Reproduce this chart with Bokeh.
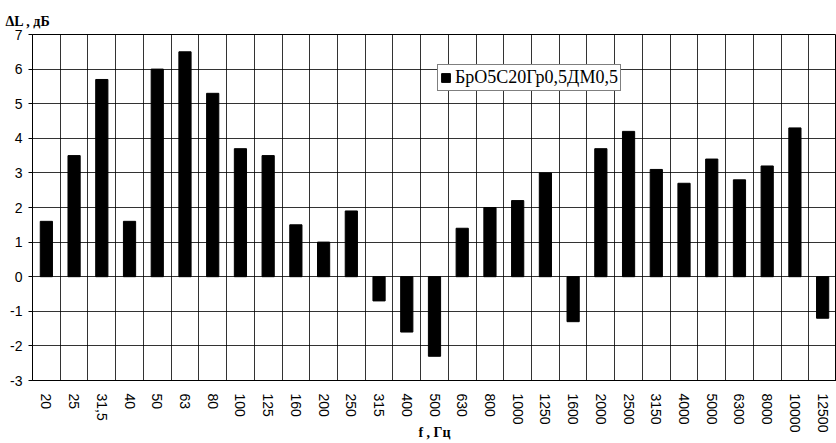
from bokeh.plotting import figure
from bokeh.models import (Range1d, FixedTicker, Legend, LegendItem, ColumnDataSource)
from bokeh.embed import file_html
from bokeh.resources import INLINE

categories = ["20", "25", "31,5", "40", "50", "63", "80", "100", "125", "160", "200", "250",
              "315", "400", "500", "630", "800", "1000", "1250", "1600", "2000", "2500",
              "3150", "4000", "5000", "6300", "8000", "10000", "12500"]
values = [1.6, 3.5, 5.7, 1.6, 6.0, 6.5, 5.3, 3.7, 3.5, 1.5, 1.0, 1.9,
          -0.7, -1.6, -2.3, 1.4, 2.0, 2.2, 3.0, -1.3, 3.7, 4.2,
          3.1, 2.7, 3.4, 2.8, 3.2, 4.3, -1.2]
y_ticks = [-3, -2, -1, 0, 1, 2, 3, 4, 5, 6, 7]
series_name = "БрО5С20Гр0,5ДМ0,5"
y_title = "ΔL , дБ"
x_title = "f , Гц"

n = len(categories)
xs = list(range(n))
src = ColumnDataSource(dict(x=xs, top=values))

p = figure(width=836, height=443, output_backend="svg", toolbar_location=None,
           x_range=Range1d(-0.5, n - 0.5), y_range=Range1d(-3, 7),
           min_border_left=32, min_border_right=0, min_border_top=34, min_border_bottom=62)
p.background_fill_color = "white"
p.border_fill_color = "white"
p.outline_line_color = "black"
p.outline_line_width = 1

r = p.vbar(x="x", top="top", bottom=0, width=0.44, fill_color="black", line_color="black", source=src)

# title used as the y-axis caption at top-left
p.title.text = y_title
p.title.text_font = "Liberation Serif"
p.title.text_font_size = "14px"
p.title.text_font_style = "bold"
p.title.text_color = "black"
p.title.align = "left"
p.title.offset = -27
p.title.standoff = 12

# axes
p.xaxis.ticker = FixedTicker(ticks=xs)
p.xaxis.major_label_overrides = {i: c for i, c in enumerate(categories)}
p.xaxis.major_label_orientation = "vertical"
p.xaxis.major_tick_line_color = None
p.xaxis.minor_tick_line_color = None
p.xaxis.axis_line_color = "black"
p.xaxis.major_label_text_font = "Liberation Sans"
p.xaxis.major_label_text_font_size = "14px"
p.xaxis.major_label_text_color = "black"
p.xaxis.major_label_standoff = 7
p.xaxis.axis_label = x_title
p.xaxis.axis_label_text_font = "Liberation Serif"
p.xaxis.axis_label_text_font_size = "14px"
p.xaxis.axis_label_text_font_style = "bold"
p.xaxis.axis_label_text_color = "black"
p.xaxis.axis_label_standoff = -10

p.yaxis.ticker = FixedTicker(ticks=y_ticks)
p.yaxis.major_label_overrides = {t: str(t) for t in y_ticks}
p.yaxis.minor_tick_line_color = None
p.yaxis.major_tick_out = 4
p.yaxis.major_tick_in = 0
p.yaxis.major_tick_line_color = "black"
p.yaxis.axis_line_color = "black"
p.yaxis.major_label_text_font = "Liberation Sans"
p.yaxis.major_label_text_font_size = "14px"
p.yaxis.major_label_text_color = "black"
p.yaxis.major_label_standoff = 6

# grids
p.xgrid.ticker = FixedTicker(ticks=[i - 0.5 for i in range(n + 1)])
p.xgrid.grid_line_color = "black"
p.xgrid.grid_line_alpha = 0.8
p.ygrid.ticker = FixedTicker(ticks=y_ticks)
p.ygrid.grid_line_color = "black"
p.ygrid.grid_line_alpha = 0.8

legend = Legend(items=[LegendItem(label=series_name, renderers=[r])],
                location=(405, 289))
legend.label_text_font = "Liberation Serif"
legend.label_text_font_size = "18px"
legend.label_text_color = "black"
legend.glyph_width = 11
legend.glyph_height = 11
legend.padding = 2
legend.spacing = 0
legend.margin = 0
legend.label_standoff = 4
legend.label_height = 14
legend.border_line_color = "black"
legend.border_line_width = 1
legend.background_fill_alpha = 1.0
p.add_layout(legend)

open("out.html", "w").write(file_html(p, INLINE))
